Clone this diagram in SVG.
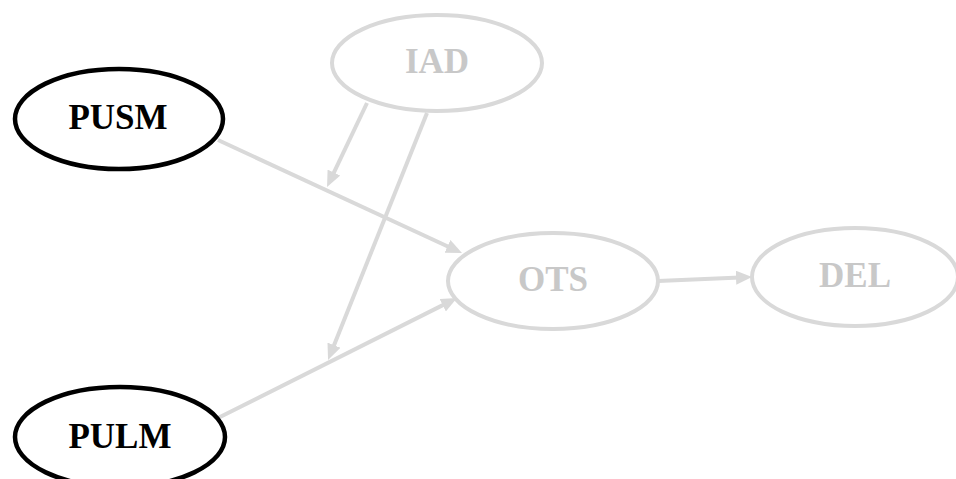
<svg xmlns="http://www.w3.org/2000/svg" width="956" height="479" viewBox="0 0 956 479">
  <style>
    .bg { fill: #ffffff; }
    .node-on ellipse { fill: none; stroke: #000000; stroke-width: 4.5; }
    .node-on text { fill: #000000; }
    .node-off ellipse { fill: none; stroke: #d9d9d9; stroke-width: 4; }
    .node-off text { fill: #c8c8c8; }
    text { font-family: "Liberation Serif", "Times New Roman", serif; font-weight: bold; font-size: 35px; text-anchor: middle; }
    .edge { fill: none; stroke: #d9d9d9; stroke-width: 4; marker-end: url(#arrow); }
  </style>
  <defs>
    <marker id="arrow" markerUnits="userSpaceOnUse" markerWidth="16" markerHeight="14" refX="4" refY="7" orient="auto">
      <path d="M0,0 L16,7 L0,14 z" fill="#d9d9d9"/>
    </marker>
  </defs>
  <rect class="bg" x="0" y="0" width="956" height="479"/>

  <g id="edges">
    <line class="edge" x1="218" y1="140" x2="451.1" y2="248.0"/>
    <line class="edge" x1="218" y1="418" x2="446.3" y2="303.4"/>
    <line class="edge" x1="367" y1="103" x2="332.2" y2="176.2"/>
    <line class="edge" x1="427" y1="113" x2="332.5" y2="348.9"/>
    <line class="edge" x1="658" y1="281" x2="740" y2="277.5"/>
  </g>

  <g id="PUSM" class="node-on">
    <ellipse cx="119" cy="119" rx="104" ry="50"/>
    <text x="118" y="129">PUSM</text>
  </g>
  <g id="PULM" class="node-on">
    <ellipse cx="120" cy="437" rx="105" ry="50"/>
    <text x="120" y="448">PULM</text>
  </g>
  <g id="IAD" class="node-off">
    <ellipse cx="437" cy="63" rx="105" ry="48"/>
    <text x="437" y="73">IAD</text>
  </g>
  <g id="OTS" class="node-off">
    <ellipse cx="553" cy="281" rx="105" ry="48"/>
    <text x="553" y="291">OTS</text>
  </g>
  <g id="DEL" class="node-off">
    <ellipse cx="855" cy="277" rx="103" ry="49"/>
    <text x="855" y="287">DEL</text>
  </g>
</svg>
